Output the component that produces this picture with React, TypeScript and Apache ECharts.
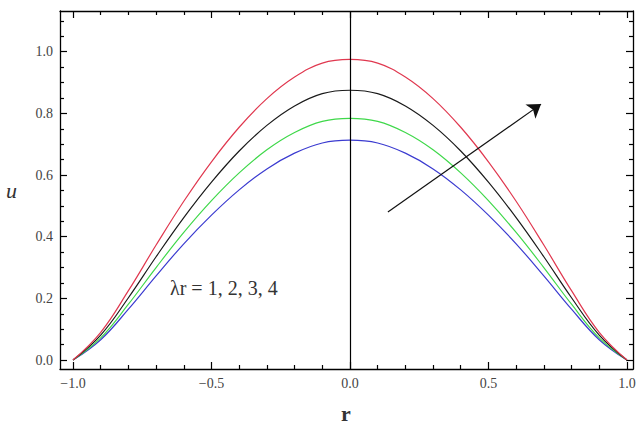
import React, { useEffect, useRef } from "react";
import * as echarts from "echarts";

// Velocity profiles u(r) across the channel for λr = 1, 2, 3, 4
const rValues = [
  -1.0, -0.9, -0.8, -0.7, -0.6, -0.5, -0.4, -0.3, -0.2, -0.1, 0.0,
  0.1, 0.2, 0.3, 0.4, 0.5, 0.6, 0.7, 0.8, 0.9, 1.0,
];
const uRed = [
  0, 0.09, 0.225, 0.373, 0.515, 0.643, 0.755, 0.848, 0.918, 0.963, 0.975,
  0.963, 0.918, 0.848, 0.755, 0.643, 0.515, 0.373, 0.225, 0.09, 0,
];
const uBlack = [
  0, 0.081, 0.202, 0.335, 0.462, 0.577, 0.678, 0.761, 0.824, 0.864, 0.875,
  0.864, 0.824, 0.761, 0.678, 0.577, 0.462, 0.335, 0.202, 0.081, 0,
];
const uGreen = [
  0, 0.072, 0.181, 0.3, 0.414, 0.517, 0.607, 0.682, 0.738, 0.774, 0.784,
  0.774, 0.738, 0.682, 0.607, 0.517, 0.414, 0.3, 0.181, 0.072, 0,
];
const uBlue = [
  0, 0.066, 0.165, 0.273, 0.377, 0.47, 0.552, 0.62, 0.671, 0.704, 0.713,
  0.704, 0.671, 0.62, 0.552, 0.47, 0.377, 0.273, 0.165, 0.066, 0,
];

const xMajorTicks = [-1.0, -0.5, 0.0, 0.5, 1.0];
const xMinorTicks = [
  -0.9, -0.8, -0.7, -0.6, -0.4, -0.3, -0.2, -0.1,
  0.1, 0.2, 0.3, 0.4, 0.6, 0.7, 0.8, 0.9,
];
const yMajorTicks = [0.0, 0.2, 0.4, 0.6, 0.8, 1.0];
const yMinorTicks = [
  0.05, 0.1, 0.15, 0.25, 0.3, 0.35, 0.45, 0.5, 0.55, 0.65, 0.7, 0.75,
  0.85, 0.9, 0.95, 1.05, 1.1,
];

// Arrow showing the direction of increasing λr
const arrowStart = [0.137, 0.48];
const arrowEnd = [0.69, 0.83];

const X_MIN = -1.047;
const X_MAX = 1.022;
const Y_MIN = -0.029;
const Y_MAX = 1.132;

const SERIF = "'Liberation Serif', 'Times New Roman', serif";

const pairs = (ys: number[]) => rValues.map((r, i) => [r, ys[i]]);

function xAxisDef(
  gridIndex: number,
  position: "top" | "bottom",
  ticks: number[],
  len: number,
  withLabels: boolean,
  withLine: boolean
) {
  return {
    type: "value",
    gridIndex,
    position,
    min: X_MIN,
    max: X_MAX,
    axisLine: { show: withLine, onZero: false, lineStyle: { color: "#000", width: 1.3 } },
    axisTick: {
      show: true,
      inside: true,
      length: len,
      customValues: ticks,
      lineStyle: { color: "#000", width: 1.2 },
    },
    axisLabel: {
      show: withLabels,
      customValues: ticks,
      margin: 7,
      color: "#444",
      fontFamily: SERIF,
      fontSize: 14,
      formatter: (v: number) => (v < 0 ? "\u2212" : "") + Math.abs(v).toFixed(1),
    },
    splitLine: { show: false },
  };
}

function yAxisDef(
  gridIndex: number,
  position: "left" | "right",
  ticks: number[],
  len: number,
  withLabels: boolean,
  withLine: boolean
) {
  return {
    type: "value",
    gridIndex,
    position,
    min: Y_MIN,
    max: Y_MAX,
    axisLine: { show: withLine, onZero: false, lineStyle: { color: "#000", width: 1.3 } },
    axisTick: {
      show: true,
      inside: true,
      length: len,
      customValues: ticks,
      lineStyle: { color: "#000", width: 1.2 },
    },
    axisLabel: {
      show: withLabels,
      customValues: ticks,
      margin: 7,
      color: "#444",
      fontFamily: SERIF,
      fontSize: 14,
      formatter: (v: number) => v.toFixed(1),
    },
    splitLine: { show: false },
  };
}

function curve(name: string, ys: number[], color: string, extra: any = {}) {
  return {
    name,
    type: "line",
    xAxisIndex: 0,
    yAxisIndex: 0,
    data: pairs(ys),
    smooth: 0.4,
    showSymbol: false,
    symbol: "none",
    lineStyle: { color, width: 1.2 },
    z: 3,
    ...extra,
  };
}

export default function App() {
  const ref = useRef<HTMLDivElement>(null);

  useEffect(() => {
    if (!ref.current) return;
    const chart = echarts.init(ref.current, null, { renderer: "svg" });
    const gridBox = {
      left: 60,
      right: 6,
      top: 11,
      bottom: 57,
      containLabel: false,
      outerBoundsMode: "none",
    };
    chart.setOption({
      animation: false,
      backgroundColor: "#fff",
      grid: [{ ...gridBox }, { ...gridBox }],
      xAxis: [
        xAxisDef(0, "bottom", xMajorTicks, 7, true, true),
        xAxisDef(0, "top", xMajorTicks, 7, false, true),
        xAxisDef(1, "bottom", xMinorTicks, 4, false, false),
        xAxisDef(1, "top", xMinorTicks, 4, false, false),
      ],
      yAxis: [
        yAxisDef(0, "left", yMajorTicks, 7, true, true),
        yAxisDef(0, "right", yMajorTicks, 7, false, true),
        yAxisDef(1, "left", yMinorTicks, 4, false, false),
        yAxisDef(1, "right", yMinorTicks, 4, false, false),
      ],
      series: [
        curve("λr = 4", uBlue, "#3b3bd0", {
          markLine: {
            silent: true,
            symbol: "none",
            label: { show: false },
            lineStyle: { color: "#000", width: 1.2, type: "solid" },
            data: [{ xAxis: 0 }],
          },
        }),
        curve("λr = 3", uGreen, "#3fd84a"),
        curve("λr = 2", uBlack, "#1a1a1a"),
        curve("λr = 1", uRed, "#e0384f", {
          markLine: {
            silent: true,
            symbol: ["none", "arrow"],
            symbolSize: 13,
            label: { show: false },
            lineStyle: { color: "#111", width: 1.2, type: "solid" },
            itemStyle: { color: "#111" },
            data: [[{ coord: arrowStart }, { coord: arrowEnd }]],
          },
        }),
      ],
      graphic: [
        {
          type: "text",
          left: 170,
          top: 278,
          style: {
            text: "λr = 1, 2, 3, 4",
            fill: "#333",
            font: `20px ${SERIF}`,
          },
        },
        {
          type: "text",
          left: 6,
          top: 179,
          style: {
            text: "u",
            fill: "#333",
            font: `italic 22px ${SERIF}`,
          },
        },
        {
          type: "text",
          left: 341,
          top: 402,
          style: {
            text: "r",
            fill: "#333",
            font: `bold 22px ${SERIF}`,
          },
        },
      ],
    });
    return () => chart.dispose();
  }, []);

  return (
    <div
      ref={ref}
      style={{ position: "fixed", left: 0, top: 0, width: 639, height: 426, background: "#fff" }}
    />
  );
}
